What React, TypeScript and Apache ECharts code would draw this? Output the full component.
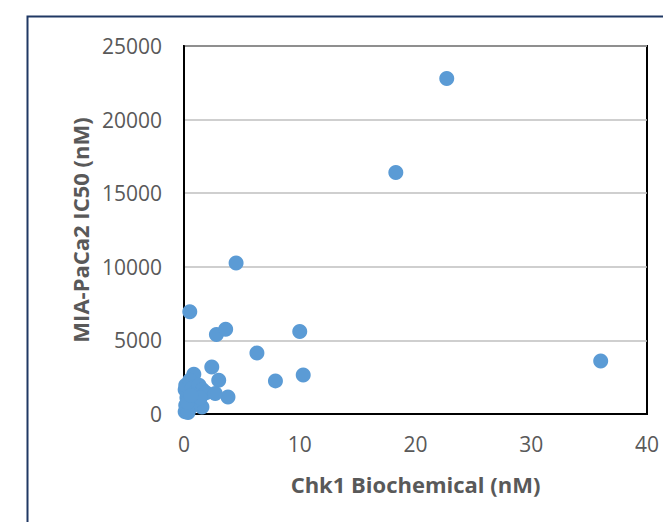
import React, { useEffect, useRef } from "react";
import * as echarts from "echarts";

const chk1Biochemical: number[] = [
  22.7, 18.3, 4.5, 0.5, 2.8, 3.6, 10.0, 6.3, 2.4, 7.9, 10.3, 36.0, 3.0, 3.8, 0.85, 1.55,
  0.1, 0.15, 0.25, 0.1, 0.15, 0.5, 0.7, 1.0, 1.3, 1.6, 1.9, 1.0, 0.5, 0.8, 0.35, 1.4, 2.7, 0.3, 0.6,
];
const miaPaCa2IC50: number[] = [
  22800, 16400, 10250, 6950, 5400, 5750, 5600, 4150, 3200, 2250, 2650, 3600, 2300, 1150, 2700, 470,
  150, 600, 1100, 1650, 1950, 2300, 1750, 1500, 1950, 1650, 1450, 950, 400, 1300, 100, 1100, 1400, 800, 1250,
];
const xTicks = { min: 0, max: 40, interval: 10 };
const yTicks = { min: 0, max: 25000, interval: 5000 };

export default function App() {
  const ref = useRef<HTMLDivElement>(null);
  useEffect(() => {
    if (!ref.current) return;
    const chart = echarts.init(ref.current, null, { renderer: "svg" });
    const data = chk1Biochemical.map((x, i) => [x, miaPaCa2IC50[i]]);
    const font = "'Open Sans', 'Liberation Sans', sans-serif";
    chart.setOption({
      animation: false,
      backgroundColor: "#ffffff",
      graphic: [
        {
          type: "rect",
          shape: { x: 27.5, y: 16.5, width: 700, height: 600 },
          style: { fill: "none", stroke: "#203864", lineWidth: 2 },
          silent: true,
        },
      ],
      grid: {
        left: 184,
        right: 16,
        top: 46,
        bottom: 108,
        show: true,
        borderColor: "#000000",
        borderWidth: 2,
        backgroundColor: "transparent",
      },
      xAxis: {
        type: "value",
        min: xTicks.min,
        max: xTicks.max,
        interval: xTicks.interval,
        name: "Chk1 Biochemical (nM)",
        nameLocation: "middle",
        nameGap: 59,
        nameTextStyle: { fontFamily: font, fontSize: 22, fontWeight: "bold", color: "#595959" },
        axisLine: { show: true, lineStyle: { color: "#000", width: 2 } },
        axisTick: { show: false },
        splitLine: { show: false },
        axisLabel: { fontFamily: font, fontSize: 21, color: "#595959", margin: 19, formatter: (v: number) => String(v) },
      },
      yAxis: {
        type: "value",
        min: yTicks.min,
        max: yTicks.max,
        interval: yTicks.interval,
        name: "MIA-PaCa2 IC50 (nM)",
        nameLocation: "middle",
        nameGap: 91,
        nameTextStyle: { fontFamily: font, fontSize: 22, fontWeight: "bold", color: "#595959" },
        axisLine: { show: true, lineStyle: { color: "#000", width: 2 } },
        axisTick: { show: false },
        splitLine: { show: true, lineStyle: { color: "#bfbfbf", width: 1.5 } },
        axisLabel: { fontFamily: font, fontSize: 21, color: "#595959", margin: 22, formatter: (v: number) => String(v) },
      },
      series: [
        {
          type: "scatter",
          data,
          symbol: "circle",
          symbolSize: 15,
          itemStyle: { color: "#5b9bd5", opacity: 1 },
          clip: false,
        },
      ],
    });
    return () => chart.dispose();
  }, []);
  return (
    <div
      ref={ref}
      style={{ position: "absolute", left: 0, top: 0, width: 663, height: 522 }}
    />
  );
}
